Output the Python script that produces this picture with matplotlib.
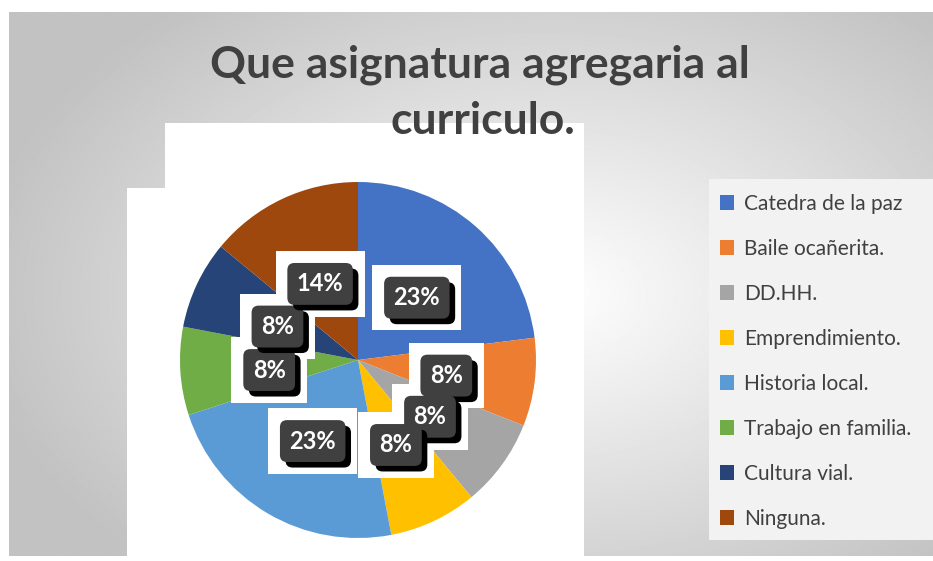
import matplotlib.pyplot as plt
import matplotlib.patheffects as pe
from matplotlib.patches import Rectangle, Patch
import numpy as np

# datos de la encuesta
categorias = ["Catedra de la paz", "Baile ocañerita.", "DD.HH.", "Emprendimiento.",
              "Historia local.", "Trabajo en familia.", "Cultura vial.", "Ninguna."]
porcentajes = [23, 8, 8, 8, 23, 8, 8, 14]
colores = ["#4472C4", "#ED7D31", "#A5A5A5", "#FFC000",
           "#5B9BD5", "#70AD47", "#264478", "#9E480E"]

W, H = 933, 561
plt.rcParams['font.family'] = ['Lato', 'DejaVu Sans']
fig = plt.figure(figsize=(W / 100, H / 100), dpi=100)

# fondo con degradado radial
bg = fig.add_axes([0, 0, 1, 1])
bg.set_xlim(0, W)
bg.set_ylim(H, 0)
bg.axis('off')
yy, xx = np.mgrid[0:H, 0:W]
d = np.sqrt(((xx - 540) / 600.0) ** 2 + ((yy - 290) / 400.0) ** 2)
g = np.clip(1.0 - 0.25 * d, 0.76, 1.0)
bg.imshow(g, cmap='gray', vmin=0, vmax=1, extent=(9, W, 556, 12), zorder=0)
# zona blanca detras del pastel
bg.add_patch(Rectangle((165, 123), 419, 433, fc='white', ec='none', zorder=1))
bg.add_patch(Rectangle((127, 188), 457, 368, fc='white', ec='none', zorder=1))

# titulo
fig.text(480 / W, 1 - 65 / H, "Que asignatura agregaria al", ha='center', va='center',
         fontsize=32, fontweight='bold', color='#404040')
fig.text(483 / W, 1 - 121 / H, "curriculo.", ha='center', va='center',
         fontsize=32, fontweight='bold', color='#404040')

# pastel
cx, cy, R = 358, 360, 178
ax = fig.add_axes([(cx - R) / W, (H - cy - R) / H, 2 * R / W, 2 * R / H])
wedges, textos, autotextos = ax.pie(porcentajes, colors=colores, startangle=90,
                                    counterclock=False, radius=1,
                                    autopct=lambda p: "%d%%" % round(p),
                                    pctdistance=0.5,
                                    wedgeprops=dict(linewidth=0))
ax.set_xlim(-1, 1)
ax.set_ylim(-1, 1)

for t in autotextos:
    x, y = t.get_position()
    y = y - 0.025
    t.set_position((x, y))
    # caja blanca exterior
    ax.text(x, y, t.get_text(), ha='center', va='center', fontsize=17,
            fontweight='bold', color='white',
            bbox=dict(boxstyle='square,pad=0.9', fc='white', ec='none'), zorder=4)
    t.set_fontsize(17)
    t.set_fontweight('bold')
    t.set_color('white')
    t.set_zorder(5)
    t.set_bbox(dict(boxstyle='round,pad=0.4,rounding_size=0.3', fc='#404040', ec='none'))
    t.get_bbox_patch().set_path_effects([
        pe.SimplePatchShadow(offset=(4, -4), shadow_rgbFace='black', alpha=1),
        pe.Normal()])

# leyenda
fig.patches.append(Rectangle((709 / W, 1 - 540 / H), (W - 709) / W, 361 / H,
                             transform=fig.transFigure, fc='#f2f2f2', ec='none', zorder=2))
manejadores = [Patch(fc=c, ec='none') for c in colores]
leg = fig.legend(manejadores, categorias, loc='upper left',
                 bbox_to_anchor=(701 / W, 1 - 175 / H), frameon=False,
                 fontsize=15, labelcolor='#404040', labelspacing=1.2,
                 handlelength=0.7, handleheight=0.7, handletextpad=0.45)

fig.savefig("out.png", dpi=100)
